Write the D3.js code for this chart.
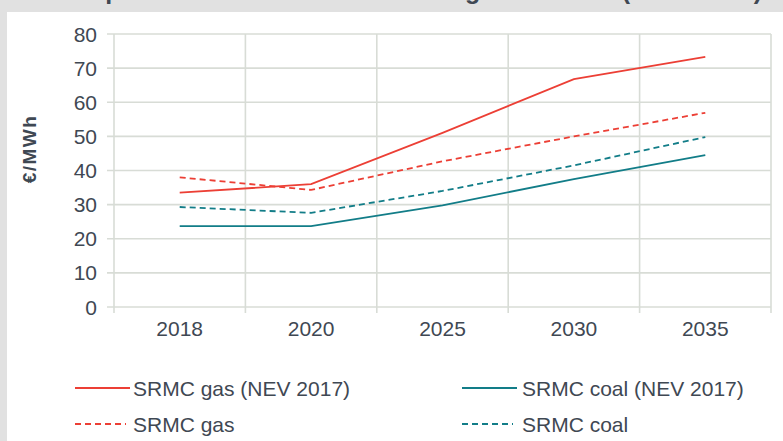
<!DOCTYPE html>
<html>
<head>
<meta charset="utf-8">
<script src="https://cdn.jsdelivr.net/npm/d3@7"></script>
<style>
  body { margin: 0; background: #e1e1e1; }
  text { font-family: "Liberation Sans", Arial, sans-serif; fill: #3f4853; }
</style>
</head>
<body>
<div id="chart"></div>
<script>
const width = 783, height = 441;

// data
const years = ["2018", "2020", "2025", "2030", "2035"];
const gasNev = [33.5, 36, 51, 66.8, 73.3];
const coalNev = [23.7, 23.7, 29.8, 37.5, 44.5];
const gas = [38, 34.3, 42.7, 50, 56.9];
const coal = [29.3, 27.6, 34, 41.5, 49.8];
const yTicks = [0, 10, 20, 30, 40, 50, 60, 70, 80];

const red = "#ec3f35", teal = "#127d88";

const series = [
  { name: "SRMC gas (NEV 2017)", values: gasNev, color: red, dash: null },
  { name: "SRMC coal (NEV 2017)", values: coalNev, color: teal, dash: null },
  { name: "SRMC gas", values: gas, color: red, dash: "6,4" },
  { name: "SRMC coal", values: coal, color: teal, dash: "6,4" }
];

const margin = { left: 114, right: 12, top: 34, bottom: 134 };

const svg = d3.select("#chart").append("svg")
    .attr("width", width)
    .attr("height", height)
    .style("display", "block");

// white panel over grey background
svg.append("rect")
    .attr("x", 7).attr("y", 12)
    .attr("width", width - 7).attr("height", height - 12)
    .attr("fill", "#fff");

// title (cut off at the top in the reference)
svg.append("text")
    .attr("x", 50).attr("y", -1)
    .style("font-size", "25px")
    .style("font-weight", "bold")
    .attr("textLength", 712)
    .text("Comparison of assumed SRMC for gas and coal (2018–2035)");

var x = d3.scaleBand()
    .domain(years)
    .range([margin.left, width - margin.right])
    .padding(0);

var y = d3.scaleLinear()
    .domain([0, 80])
    .range([height - margin.bottom, margin.top]);

const gridColor = "#d8dcd6";
const yBottom = y(0), yTop = y(80);

// horizontal grid + left tick marks
svg.append("g").selectAll("line")
    .data(yTicks)
    .enter().append("line")
    .attr("x1", margin.left - 7)
    .attr("x2", width - margin.right)
    .attr("y1", d => y(d))
    .attr("y2", d => y(d))
    .attr("stroke", gridColor)
    .attr("stroke-width", 1.6);

// vertical grid at category boundaries, running past the axis as ticks
var bounds = years.map(d => x(d)).concat([x(years[years.length - 1]) + x.bandwidth()]);
svg.append("g").selectAll("line")
    .data(bounds)
    .enter().append("line")
    .attr("x1", d => d).attr("x2", d => d)
    .attr("y1", yTop)
    .attr("y2", yBottom + 6)
    .attr("stroke", gridColor)
    .attr("stroke-width", 1.6);

// y tick labels
svg.append("g").selectAll("text")
    .data(yTicks)
    .enter().append("text")
    .attr("x", 97)
    .attr("y", d => y(d))
    .attr("dy", "0.36em")
    .attr("text-anchor", "end")
    .style("font-size", "21px")
    .text(d => d);

// x tick labels
svg.append("g").selectAll("text")
    .data(years)
    .enter().append("text")
    .attr("x", d => x(d) + x.bandwidth() / 2)
    .attr("y", yBottom + 29)
    .attr("text-anchor", "middle")
    .style("font-size", "21px")
    .text(d => d);

// y axis title
svg.append("text")
    .attr("transform", "translate(36,149) rotate(-90)")
    .attr("text-anchor", "middle")
    .style("font-size", "19px")
    .style("font-weight", "bold")
    .style("letter-spacing", "1.5px")
    .text("€/MWh");

var line = d3.line()
    .x((d, i) => x(years[i]) + x.bandwidth() / 2)
    .y(d => y(d));

svg.append("g").selectAll("path")
    .data(series)
    .enter().append("path")
    .attr("d", d => line(d.values))
    .attr("fill", "none")
    .attr("stroke", d => d.color)
    .attr("stroke-width", 1.8)
    .attr("stroke-dasharray", d => d.dash);

// legend, two columns by two rows
var legend = svg.append("g").selectAll("g")
    .data(series)
    .enter().append("g")
    .attr("transform", (d, i) => "translate(" + (i % 2 ? 462 : 75) + "," + (i < 2 ? 388 : 424) + ")");

legend.append("line")
    .attr("x1", 0).attr("x2", d => d.dash ? 51 : 55)
    .attr("y1", 0).attr("y2", 0)
    .attr("stroke", d => d.color)
    .attr("stroke-width", 1.8)
    .attr("stroke-dasharray", d => d.dash);

legend.append("text")
    .attr("x", (d, i) => (i % 2 ? 60 : 58))
    .attr("dy", "0.36em")
    .style("font-size", "21px")
    .text(d => d.name);
</script>
</body>
</html>
